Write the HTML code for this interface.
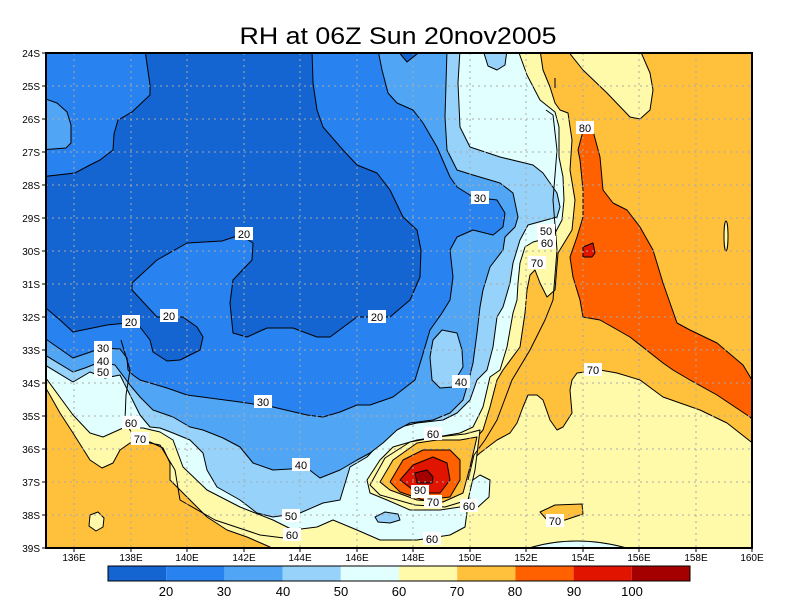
<!DOCTYPE html>
<html><head><meta charset="utf-8"><style>
body{margin:0;background:#fff;}
svg{display:block;font-family:"Liberation Sans",sans-serif;}
</style></head><body>
<svg width="800" height="600" viewBox="0 0 800 600" xmlns="http://www.w3.org/2000/svg">
<rect width="800" height="600" fill="#fff"/>
<text x="398" y="44" font-size="24" text-anchor="middle" textLength="317" lengthAdjust="spacingAndGlyphs">RH at 06Z Sun 20nov2005</text>
<defs><clipPath id="c"><rect x="46" y="53" width="706" height="495"/></clipPath></defs>
<g clip-path="url(#c)" stroke="#000" stroke-width="1" stroke-linejoin="round">
<rect x="46" y="53" width="706" height="495" fill="#FFC03C" stroke="none"/>
<!-- top right yellow patch -->
<polygon fill="#FFFAAA" points="567,50 583,70 607,93 630,117 640,119 650,110 653,90 650,73 640,50"/>
<!-- red corridor -->
<polygon fill="#FF6000" points="583,131 593,131 600,157 603,190 613,203 627,210 640,227 653,250 663,283 670,303 677,323 690,330 717,343 743,365 755,385 755,422 750,417 717,395 690,380 673,370 663,363 630,337 600,320 583,317 580,300 573,277 570,257 577,237 583,217 583,190 580,160 578,150"/>
<polygon fill="#E11400" points="583,247 593,243 595,253 592,257 583,257"/>
<!-- yellow big -->
<polygon fill="#FFFAAA" points="40,50 540,50 543,70 550,87 555,103 560,110 568,113 572,140 570,170 575,200 572,230 558,253 555,290 547,297 540,283 535,270 530,275 527,290 525,313 520,347 503,370 497,380 490,407 483,430 477,437 460,440 437,440 417,443 393,460 380,482 390,490 417,500 443,502 463,493 470,467 472,460 480,453 497,440 510,433 517,423 523,407 528,395 537,395 543,400 550,420 557,430 563,427 572,413 570,390 572,380 577,373 600,370 617,373 640,380 663,397 700,410 727,423 755,445 755,552 40,552"/>
<!-- SW orange -->
<polygon fill="#FFC03C" points="40,380 47,390 60,413 73,433 90,460 102,468 113,463 120,450 130,443 150,442 163,448 170,463 170,480 183,493 193,503 207,517 227,530 247,537 270,547 275,552 40,552"/>
<polygon fill="#FFFAAA" points="90,515 98,512 104,518 103,527 96,531 89,526"/>
<polygon fill="#FFC03C" points="540,512 555,505 582,504 583,514 565,520 548,521"/>
<!-- cyan -->
<polygon fill="#E1FFFF" points="40,50 518,50 527,75 540,100 555,112 559,127 559,157 563,177 564,200 562,220 553,237 533,242 525,247 520,263 518,283 517,300 513,313 507,347 500,370 490,377 483,407 473,427 460,433 437,437 417,440 393,447 380,460 367,480 370,493 387,500 410,510 440,510 460,507 467,512 465,527 450,535 417,540 380,540 357,530 333,520 317,527 293,530 273,520 240,507 207,490 183,467 173,440 160,432 143,428 123,428 103,437 90,433 73,415 40,370"/>
<polygon fill="#E1FFFF" points="470,482 480,475 490,480 489,497 478,507 468,505"/>
<path fill="#E1FFFF" d="M517,552 Q575,530 640,552 Z"/>
<!-- blob -->
<polygon fill="#FFFAAA" points="370,485 385,458 410,442 437,437 465,434 480,430 475,470 468,500 445,507 415,505 380,495"/>
<polygon fill="#FFC03C" points="380,482 393,460 417,443 437,440 460,440 477,437 470,467 463,493 443,502 417,500 390,490"/>
<polygon fill="#FF6000" points="390,482 403,460 423,450 450,450 460,460 460,480 450,497 423,500 400,492"/>
<polygon fill="#E11400" points="400,480 413,465 433,457 447,463 450,480 440,493 417,493"/>
<polygon fill="#A50000" points="415,473 427,470 433,477 432,483 417,483"/>
<polygon fill="#96D2FA" points="375,517 385,512 398,514 400,520 390,523 378,522"/>
<!-- <=50 -->
<polygon fill="#96D2FA" points="40,50 460,50 458,83 460,127 470,147 500,157 533,165 543,173 557,193 560,207 557,217 528,225 520,240 513,263 510,283 503,307 497,317 493,347 487,370 477,380 470,400 457,413 443,420 417,423 400,427 383,440 367,457 350,467 340,500 323,503 300,513 273,517 257,513 240,500 217,487 207,470 203,453 190,440 173,433 160,428 150,427 140,415 130,395 120,375 105,378 90,372 73,382 40,362"/>
<polygon fill="#96D2FA" points="483,50 507,50 505,65 497,70 488,66"/>
<!-- <=40 -->
<polygon fill="#50A5F5" points="40,50 447,50 445,117 447,150 457,170 473,175 500,183 513,193 518,217 515,227 505,237 503,250 490,267 483,290 480,307 477,333 473,363 468,383 463,400 450,413 433,420 410,423 397,430 383,443 370,453 357,460 340,470 320,478 307,468 273,470 253,463 240,447 223,438 203,430 190,427 173,417 153,410 140,397 130,385 115,365 100,362 85,368 73,372 40,352"/>
<polygon fill="#96D2FA" points="442,330 457,333 462,350 463,367 457,377 453,387 440,388 432,380 430,357 433,340"/>
<!-- <=30 -->
<polygon fill="#2882F0" points="40,50 378,50 382,70 388,93 397,103 413,110 423,123 437,147 450,177 457,187 473,197 497,200 505,213 503,227 493,235 473,230 457,237 450,250 453,277 450,300 442,313 430,330 422,357 415,380 393,397 370,405 357,405 340,412 323,417 307,415 273,407 240,402 187,395 167,388 140,380 133,375 128,370 127,358 120,349 102,348 73,358 40,335"/>
<polygon fill="#50A5F5" points="40,97 57,103 67,112 71,125 71,143 66,148 40,150"/>
<!-- <=20 -->
<polygon fill="#1464D2" points="145,50 150,85 150,95 132,112 118,120 114,134 113,150 100,160 90,165 75,173 40,177 40,303 60,320 73,332 107,325 127,323 140,327 150,340 153,352 167,361 180,360 200,350 203,337 197,327 183,317 157,317 132,290 132,283 157,260 187,243 222,241 240,235 253,243 252,260 233,280 230,303 233,333 247,337 267,328 293,328 317,337 330,337 357,317 390,317 410,300 420,277 421,250 417,230 403,217 390,190 377,173 357,165 343,150 323,127 317,110 313,83 312,50"/>
<polygon fill="#1464D2" points="397,50 407,62 422,50"/>
<!-- coast lines -->
<polyline fill="none" points="546,110 553,115 557,150 553,200 557,250 553,300 545,320 530,350 512,380 497,420 485,440 474,455 468,480"/>
<polyline fill="none" points="121,340 130,370 126,395 125,420 135,440 160,445 175,470 180,500 215,520 260,535 300,540"/>
<line x1="555" y1="78" x2="555" y2="88"/>
<ellipse cx="726" cy="236" rx="2" ry="15" fill="#FFFAAA"/>
</g>
<!-- grid -->
<g stroke="#aaa" stroke-width="1" stroke-dasharray="2,4">
<path d="M74,53V548M131,53V548M187,53V548M244,53V548M300,53V548M357,53V548M413,53V548M470,53V548M526,53V548M583,53V548M639,53V548M696,53V548"/>
<path d="M46,86H752M46,119H752M46,152H752M46,185H752M46,218H752M46,251H752M46,284H752M46,317H752M46,350H752M46,383H752M46,416H752M46,449H752M46,482H752M46,515H752"/>
</g>
<rect x="46" y="53" width="706" height="495" fill="none" stroke="#000" stroke-width="2"/>
<!-- contour labels -->
<g font-size="11" text-anchor="middle">
<g fill="#fff">
<rect x="576" y="121" width="18" height="13"/><rect x="471" y="191" width="18" height="13"/><rect x="235" y="227" width="18" height="13"/><rect x="537" y="224" width="18" height="13"/><rect x="538" y="236" width="18" height="13"/><rect x="528" y="256" width="18" height="13"/><rect x="160" y="309" width="18" height="13"/><rect x="368" y="310" width="18" height="13"/><rect x="122" y="315" width="18" height="13"/><rect x="94" y="341" width="18" height="13"/><rect x="94" y="354" width="18" height="13"/><rect x="94" y="365" width="18" height="13"/><rect x="452" y="375" width="18" height="13"/><rect x="584" y="363" width="18" height="13"/><rect x="254" y="395" width="18" height="13"/><rect x="122" y="416" width="18" height="13"/><rect x="131" y="432" width="18" height="13"/><rect x="424" y="427" width="18" height="13"/><rect x="292" y="458" width="18" height="13"/><rect x="411" y="485" width="18" height="13"/><rect x="424" y="495" width="18" height="13"/><rect x="460" y="499" width="18" height="13"/><rect x="282" y="509" width="18" height="13"/><rect x="546" y="514" width="18" height="13"/><rect x="423" y="532" width="18" height="13"/><rect x="283" y="528" width="18" height="13"/>
</g>
<text x="585" y="132">80</text><text x="480" y="202">30</text><text x="244" y="238">20</text><text x="546" y="235">50</text><text x="547" y="247">60</text><text x="537" y="267">70</text><text x="169" y="320">20</text><text x="377" y="321">20</text><text x="131" y="326">20</text><text x="103" y="352">30</text><text x="103" y="365">40</text><text x="103" y="376">50</text><text x="461" y="386">40</text><text x="593" y="374">70</text><text x="263" y="406">30</text><text x="131" y="427">60</text><text x="140" y="443">70</text><text x="433" y="438">60</text><text x="301" y="469">40</text><text x="420" y="494">90</text><text x="433" y="506">70</text><text x="469" y="510">60</text><text x="291" y="520">50</text><text x="555" y="525">70</text><text x="432" y="543">60</text><text x="292" y="539">60</text>
</g>
<!-- axis labels -->
<g font-size="10" text-anchor="end">
<text x="40" y="57">24S</text><text x="40" y="90">25S</text><text x="40" y="123">26S</text><text x="40" y="156">27S</text><text x="40" y="189">28S</text><text x="40" y="222">29S</text><text x="40" y="255">30S</text><text x="40" y="288">31S</text><text x="40" y="321">32S</text><text x="40" y="354">33S</text><text x="40" y="387">34S</text><text x="40" y="420">35S</text><text x="40" y="453">36S</text><text x="40" y="486">37S</text><text x="40" y="519">38S</text><text x="40" y="552">39S</text>
</g>
<g stroke="#000"><path d="M42,53H46M42,86H46M42,119H46M42,152H46M42,185H46M42,218H46M42,251H46M42,284H46M42,317H46M42,350H46M42,383H46M42,416H46M42,449H46M42,482H46M42,515H46M42,548H46"/>
<path d="M74,548V552M131,548V552M187,548V552M244,548V552M300,548V552M357,548V552M413,548V552M470,548V552M526,548V552M583,548V552M639,548V552M696,548V552M752,548V552"/></g>
<g font-size="10" text-anchor="middle">
<text x="74" y="561">136E</text><text x="131" y="561">138E</text><text x="187" y="561">140E</text><text x="244" y="561">142E</text><text x="300" y="561">144E</text><text x="357" y="561">146E</text><text x="413" y="561">148E</text><text x="470" y="561">150E</text><text x="526" y="561">152E</text><text x="583" y="561">154E</text><text x="639" y="561">156E</text><text x="696" y="561">158E</text><text x="752" y="561">160E</text>
</g>
<!-- colorbar -->
<g stroke="none">
<rect x="108" y="566" width="58.2" height="15" fill="#1464D2"/><rect x="166.2" y="566" width="58.2" height="15" fill="#2882F0"/><rect x="224.4" y="566" width="58.2" height="15" fill="#50A5F5"/><rect x="282.6" y="566" width="58.2" height="15" fill="#96D2FA"/><rect x="340.8" y="566" width="58.2" height="15" fill="#E1FFFF"/><rect x="399" y="566" width="58.2" height="15" fill="#FFFAAA"/><rect x="457.2" y="566" width="58.2" height="15" fill="#FFC03C"/><rect x="515.4" y="566" width="58.2" height="15" fill="#FF6000"/><rect x="573.6" y="566" width="58.2" height="15" fill="#E11400"/><rect x="631.8" y="566" width="58.2" height="15" fill="#A50000"/>
</g>
<rect x="108" y="566" width="582" height="15" fill="none" stroke="#000"/>
<g font-size="13" text-anchor="middle">
<text x="166" y="596">20</text><text x="224" y="596">30</text><text x="283" y="596">40</text><text x="341" y="596">50</text><text x="399" y="596">60</text><text x="457" y="596">70</text><text x="515" y="596">80</text><text x="574" y="596">90</text><text x="632" y="596">100</text>
</g>
</svg>
</body></html>
